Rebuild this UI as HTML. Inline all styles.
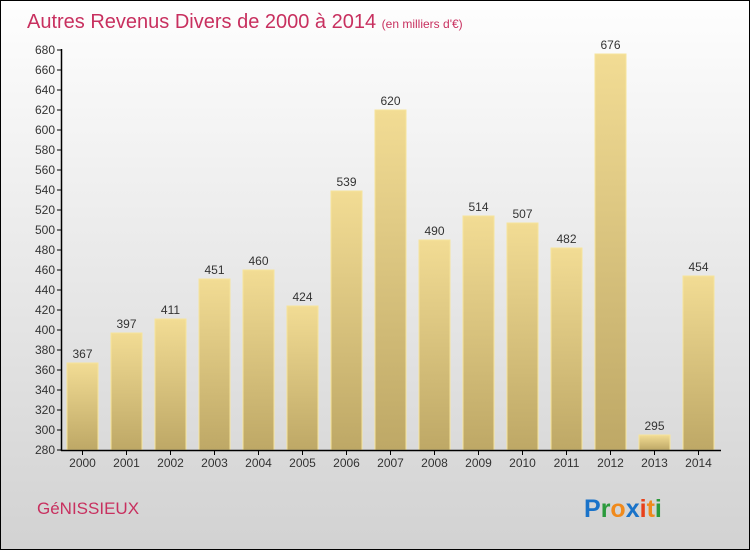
<!DOCTYPE html>
<html><head><meta charset="utf-8"><style>
body{margin:0}
#c{position:relative;width:748px;height:548px;border:1px solid #000;background:linear-gradient(#fefefe,#d2d2d2);font-family:"Liberation Sans",sans-serif;overflow:hidden}
</style></head><body>
<div id="c">
<svg width="748" height="548" xmlns="http://www.w3.org/2000/svg" id="svg">
<defs><linearGradient id="g" x1="0" y1="0" x2="0" y2="1"><stop offset="0" stop-color="#f2dc94"/><stop offset="1" stop-color="#bea866"/></linearGradient></defs>
<text x="26" y="27" font-size="20" fill="#c8305f" font-weight="300">Autres Revenus Divers de 2000 à 2014 <tspan font-size="12">(en milliers d'€)</tspan></text>
<text x="36" y="513" font-size="17" fill="#c8305f">GéNISSIEUX</text>
<text x="583" y="516" font-size="25" font-weight="bold"><tspan fill="#1a73c9">P</tspan><tspan fill="#2b9a3c">r</tspan><tspan fill="#f08a1c">o</tspan><tspan fill="#1a73c9">x</tspan><tspan fill="#e8401a">i</tspan><tspan fill="#f08a1c">t</tspan><tspan fill="#2b9a3c">i</tspan></text>
<g id="plot"></g>
</svg>
</div>
<script>
const years=["2000","2001","2002","2003","2004","2005","2006","2007","2008","2009","2010","2011","2012","2013","2014"];
const values=[367,397,411,451,460,424,539,620,490,514,507,482,676,295,454];
const ticks=[280,300,320,340,360,380,400,420,440,460,480,500,520,540,560,580,600,620,640,660,680];
const NS="http://www.w3.org/2000/svg";
const p=document.getElementById('plot');
const y=v=>449-(v-280);
const x=i=>81.5+i*44;
function mk(t,a){const e=document.createElementNS(NS,t);for(const k in a)e.setAttribute(k,a[k]);p.appendChild(e);return e;}
ticks.forEach(t=>{
 const l=mk('line',{x1:56,x2:60,y1:y(t),y2:y(t),stroke:'#000'});
 
 
 const tx=mk('text',{x:54,y:y(t)+4,'font-size':12,'text-anchor':'end',fill:'#333'});tx.textContent=t;
 
 
});
values.forEach((v,i)=>{
 const r=mk('rect',{x:x(i)-15.5,y:y(v),width:31,height:y(280)-y(v),fill:'url(#g)',stroke:'#f6e49c','stroke-width':1});
 
 
 const t=mk('text',{x:x(i),y:y(v)-5,'font-size':12,'text-anchor':'middle',fill:'#333'});t.textContent=v;
 
 
 const tk=mk('line',{x1:x(i),x2:x(i),y1:449,y2:454,stroke:'#000'});
 
 
 const xl=mk('text',{x:x(i),y:466,'font-size':12,'text-anchor':'middle',fill:'#333'});xl.textContent=years[i];
 
 
});
const ya=mk('line',{x1:60.5,x2:60.5,y1:y(680)-1,y2:450,stroke:'#000','stroke-width':1.5});


const xa=mk('line',{x1:60,x2:720,y1:449.5,y2:449.5,stroke:'#000','stroke-width':1.5});


</script>
</body></html>
